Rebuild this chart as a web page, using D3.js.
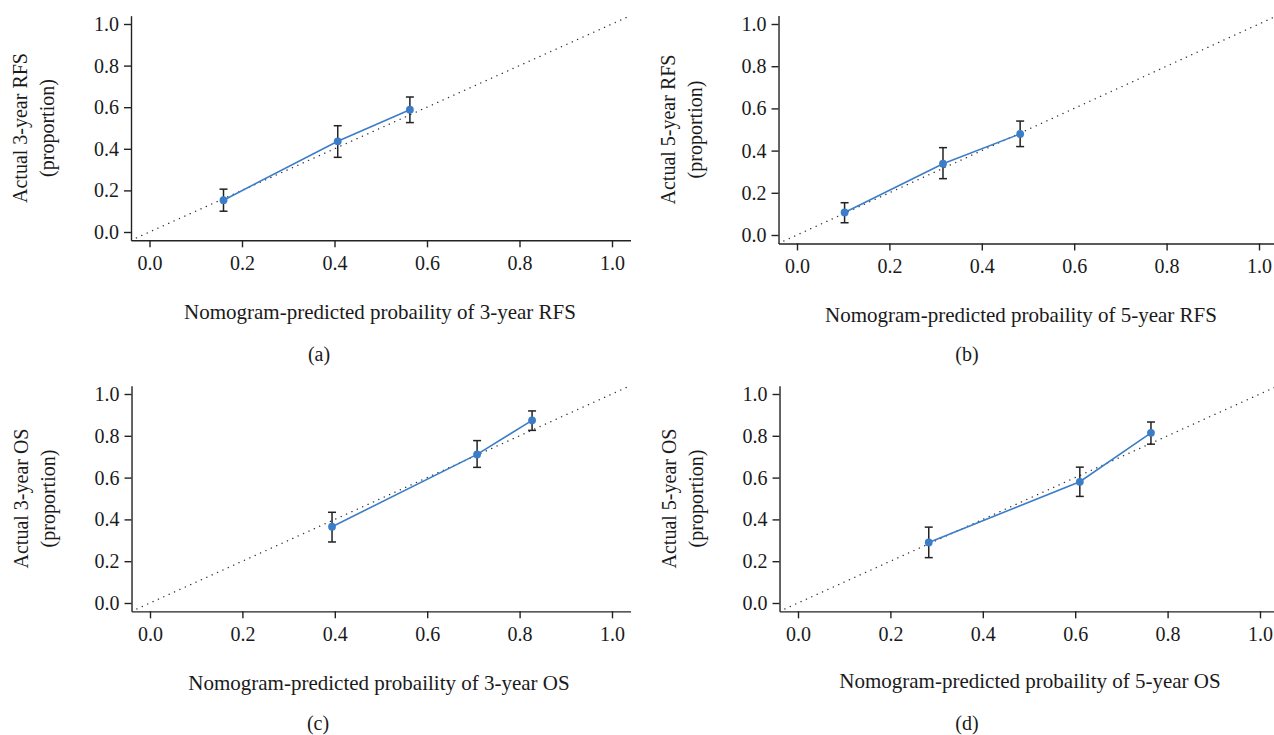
<!DOCTYPE html>
<html>
<head>
<meta charset="utf-8">
<script src="https://cdn.jsdelivr.net/npm/d3@7"></script>
<style>
    body { margin: 0; background: #fff; }
    text { font-family: "Liberation Serif", "Times New Roman", serif; fill: #1a1a1a; }
</style>
</head>
<body>
<svg id="chart" width="1274" height="735"></svg>
<script>
// calibration data
var panelNames = ["(a)", "(b)", "(c)", "(d)"];
var xTitles = [
    "Nomogram-predicted probaility of 3-year RFS",
    "Nomogram-predicted probaility of 5-year RFS",
    "Nomogram-predicted probaility of 3-year OS",
    "Nomogram-predicted probaility of 5-year OS"
];
var yTitles = ["Actual 3-year RFS", "Actual 5-year RFS", "Actual 3-year OS", "Actual 5-year OS"];

var predA = [0.160, 0.407, 0.563], obsA = [0.153, 0.436, 0.588], loA = [0.100, 0.359, 0.526], hiA = [0.206, 0.511, 0.649];
var predB = [0.103, 0.316, 0.483], obsB = [0.107, 0.338, 0.479], loB = [0.058, 0.267, 0.419], hiB = [0.153, 0.414, 0.540];
var predC = [0.394, 0.708, 0.827], obsC = [0.365, 0.711, 0.874], loC = [0.292, 0.649, 0.826], hiC = [0.434, 0.777, 0.919];
var predD = [0.283, 0.610, 0.764], obsD = [0.290, 0.580, 0.814], loD = [0.217, 0.510, 0.760], hiD = [0.363, 0.650, 0.866];

var tickValues = [0, 0.2, 0.4, 0.6, 0.8, 1.0];
var tickLabels = ["0.0", "0.2", "0.4", "0.6", "0.8", "1.0"];

var series = [
    {pred: predA, obs: obsA, lo: loA, hi: hiA},
    {pred: predB, obs: obsB, lo: loB, hi: hiB},
    {pred: predC, obs: obsC, lo: loC, hi: hiC},
    {pred: predD, obs: obsD, lo: loD, hi: hiD}
];

// where value 0 and 1 sit on each panel, plus title / label spots
var layout = [
    {x0: 149.5, x1: 612, y0: 232, y1: 24, titleX: 380, titleY: 319, tagX: 319, tagY: 361},
    {x0: 797, x1: 1259, y0: 235, y1: 24, titleX: 1021, titleY: 322, tagX: 967, tagY: 361},
    {x0: 150, x1: 612, y0: 603, y1: 394, titleX: 379, titleY: 690, tagX: 318, tagY: 730},
    {x0: 798, x1: 1260, y0: 603, y1: 394, titleX: 1030, titleY: 688, tagX: 967, tagY: 730}
];

var config = {
    pad: 0.04,
    fontSize: 20,
    titleSize: 21,
    blue: "#3b7dc8",
    ink: "#222"
};

var svg = d3.select("#chart");
var dom = [-config.pad, 1 + config.pad];

series.forEach(function (s, i) {
    var L = layout[i];
    var x0 = d3.scaleLinear().domain([0, 1]).range([L.x0, L.x1]);
    var y0 = d3.scaleLinear().domain([0, 1]).range([L.y0, L.y1]);
    var x = d3.scaleLinear().domain(dom).range(dom.map(x0));
    var y = d3.scaleLinear().domain(dom).range(dom.map(y0));

    var g = svg.append("g").attr("class", "panel");

    g.append("clipPath").attr("id", "clip" + i)
        .append("rect")
        .attr("x", x(dom[0])).attr("y", y(dom[1]))
        .attr("width", x(dom[1]) - x(dom[0]))
        .attr("height", y(dom[0]) - y(dom[1]));

    // ideal line
    g.append("line")
        .attr("clip-path", "url(#clip" + i + ")")
        .attr("x1", x(dom[0])).attr("y1", y(dom[0]))
        .attr("x2", x(dom[1])).attr("y2", y(dom[1]))
        .attr("stroke", "#333")
        .attr("stroke-width", 1.4)
        .attr("stroke-linecap", "round")
        .attr("stroke-dasharray", "0.1,5.8");

    var xAxis = d3.axisBottom(x).tickValues(tickValues)
        .tickFormat(function (d, k) { return tickLabels[k]; })
        .tickSize(7).tickSizeOuter(0).tickPadding(8);
    var yAxis = d3.axisLeft(y).tickValues(tickValues)
        .tickFormat(function (d, k) { return tickLabels[k]; })
        .tickSize(7).tickSizeOuter(0).tickPadding(5);

    var gx = g.append("g").attr("transform", "translate(0," + y(dom[0]) + ")").call(xAxis);
    var gy = g.append("g").attr("transform", "translate(" + x(dom[0]) + ",0)").call(yAxis);
    [gx, gy].forEach(function (a) {
        a.selectAll("path, line").attr("stroke", config.ink).attr("stroke-width", 1.4);
        a.selectAll("text")
            .style("font-family", "'Liberation Serif', serif")
            .style("font-size", config.fontSize + "px")
            .attr("fill", "#1a1a1a");
    });

    var pts = s.pred.map(function (p, k) {
        return {p: p, o: s.obs[k], lo: s.lo[k], hi: s.hi[k]};
    });

    // error bars
    var bars = g.selectAll(".err").data(pts).enter().append("g").attr("class", "err")
        .attr("stroke", config.ink).attr("stroke-width", 1.5);
    bars.append("line")
        .attr("x1", function (d) { return x(d.p); }).attr("x2", function (d) { return x(d.p); })
        .attr("y1", function (d) { return y(d.lo); }).attr("y2", function (d) { return y(d.hi); });
    bars.append("line")
        .attr("x1", function (d) { return x(d.p) - 4; }).attr("x2", function (d) { return x(d.p) + 4; })
        .attr("y1", function (d) { return y(d.lo); }).attr("y2", function (d) { return y(d.lo); });
    bars.append("line")
        .attr("x1", function (d) { return x(d.p) - 4; }).attr("x2", function (d) { return x(d.p) + 4; })
        .attr("y1", function (d) { return y(d.hi); }).attr("y2", function (d) { return y(d.hi); });

    var line = d3.line()
        .x(function (d) { return x(d.p); })
        .y(function (d) { return y(d.o); });
    g.append("path").datum(pts)
        .attr("d", line)
        .attr("fill", "none")
        .attr("stroke", config.blue)
        .attr("stroke-width", 1.6);

    g.selectAll(".pt").data(pts).enter().append("circle")
        .attr("class", "pt")
        .attr("cx", function (d) { return x(d.p); })
        .attr("cy", function (d) { return y(d.o); })
        .attr("r", 3.9)
        .attr("fill", config.blue);

    // titles
    g.append("text")
        .attr("x", L.titleX).attr("y", L.titleY)
        .attr("text-anchor", "middle")
        .style("font-size", config.titleSize + "px")
        .text(xTitles[i]);

    var cy = (y(dom[0]) + y(dom[1])) / 2;
    var yt = g.append("text")
        .attr("transform", "translate(" + (x(dom[0]) - 104) + "," + cy + ") rotate(-90)")
        .attr("text-anchor", "middle")
        .style("font-size", config.fontSize + "px");
    yt.append("tspan").attr("x", 0).attr("y", 0).text(yTitles[i]);
    yt.append("tspan").attr("x", 0).attr("y", 27).text("(proportion)");

    g.append("text")
        .attr("x", L.tagX).attr("y", L.tagY)
        .attr("text-anchor", "middle")
        .style("font-size", config.fontSize + "px")
        .text(panelNames[i]);
});
</script>
</body>
</html>
